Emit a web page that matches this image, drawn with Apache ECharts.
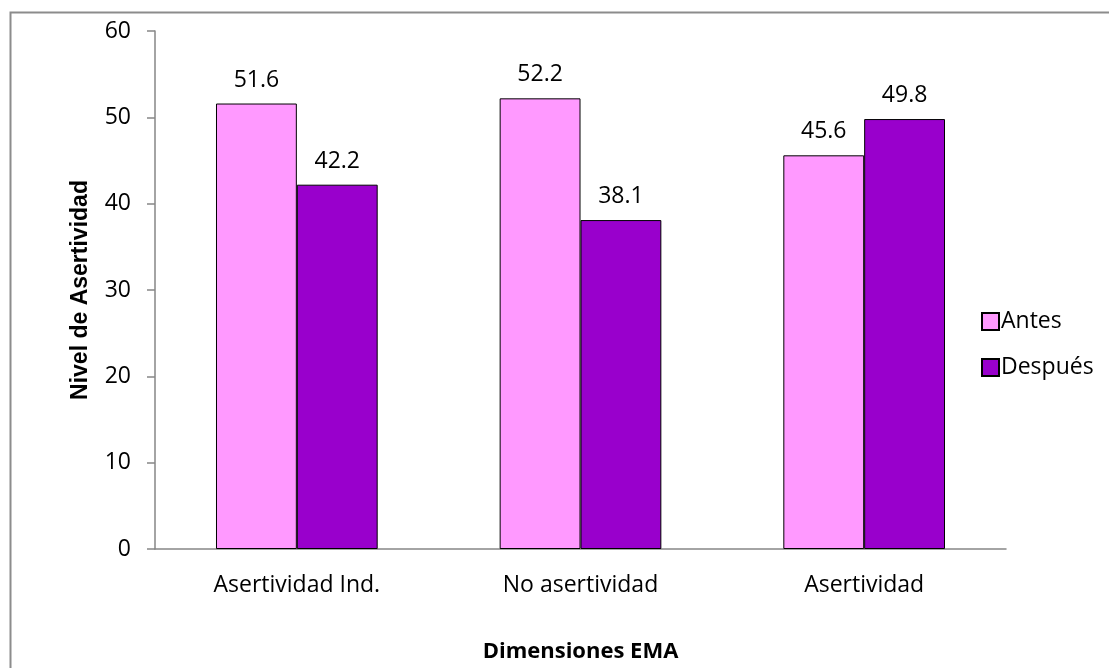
<!DOCTYPE html>
<html>
<head>
<meta charset="utf-8">
<script src="https://cdn.jsdelivr.net/npm/echarts@6/dist/echarts.min.js"></script>
<style>
  html, body { margin: 0; padding: 0; background: #fff; }
  #chart { width: 1109px; height: 668px; }
</style>
</head>
<body>
<div id="chart"></div>
<script>
const categories = ['Asertividad Ind.', 'No asertividad', 'Asertividad'];
const antes = [51.6, 52.2, 45.6];
const despues = [42.2, 38.1, 49.8];
const yTicks = { min: 0, max: 60, interval: 10 };

const FONT = '"Open Sans", sans-serif';

let myChart = echarts.init(document.getElementById('chart'));

const barLabel = {
  show: true,
  position: 'top',
  distance: 12,
  color: '#000',
  fontFamily: FONT,
  fontSize: 23,
  formatter: (p) => p.value.toFixed(1)
};

myChart.setOption({
  animation: false,
  backgroundColor: '#fff',
  graphic: [{
    type: 'rect',
    left: 8, top: 10,
    shape: { width: 1120, height: 680 },
    style: { fill: 'none', stroke: '#8c8c8c', lineWidth: 2 },
    silent: true
  }],
  grid: { left: 155, right: 103, top: 31, bottom: 118 },
  legend: {
    orient: 'vertical',
    left: 976,
    top: 305,
    itemWidth: 17,
    itemHeight: 17,
    itemGap: 23,
    icon: 'rect',
    textStyle: { fontFamily: FONT, fontSize: 23, color: '#000', padding: [0, 0, 0, -3] },
    data: ['Antes', 'Después']
  },
  xAxis: {
    type: 'category',
    data: categories,
    axisLine: { lineStyle: { color: '#868686', width: 1.5 } },
    axisTick: { show: false },
    axisLabel: { color: '#000', fontFamily: FONT, fontSize: 23, margin: 25 },
    name: 'Dimensiones EMA',
    nameLocation: 'middle',
    nameGap: 92,
    nameTextStyle: { color: '#000', fontFamily: FONT, fontSize: 22, fontWeight: 'bold' }
  },
  yAxis: {
    type: 'value',
    min: yTicks.min,
    max: yTicks.max,
    interval: yTicks.interval,
    axisLine: { show: true, lineStyle: { color: '#868686', width: 1.5 } },
    axisTick: { show: true, length: 8, lineStyle: { color: '#868686', width: 1.5 } },
    splitLine: { show: false },
    axisLabel: { color: '#000', fontFamily: FONT, fontSize: 23, margin: 24 },
    name: 'Nivel de Asertividad',
    nameLocation: 'middle',
    nameGap: 63,
    nameTextStyle: { color: '#000', fontFamily: '"Liberation Sans", Arial, sans-serif', fontSize: 23, fontWeight: 'bold' }
  },
  series: [
    {
      name: 'Antes',
      type: 'bar',
      data: antes,
      barGap: '0%',
      barCategoryGap: '43%',
      itemStyle: { color: '#FF99FF', borderColor: '#000', borderWidth: 1 },
      label: barLabel
    },
    {
      name: 'Después',
      type: 'bar',
      data: despues,
      barGap: '0%',
      barCategoryGap: '43%',
      itemStyle: { color: '#9900CC', borderColor: '#000', borderWidth: 1 },
      label: barLabel
    }
  ]
});

window.onresize = function () {
  myChart.resize();
};
</script>
</body>
</html>
